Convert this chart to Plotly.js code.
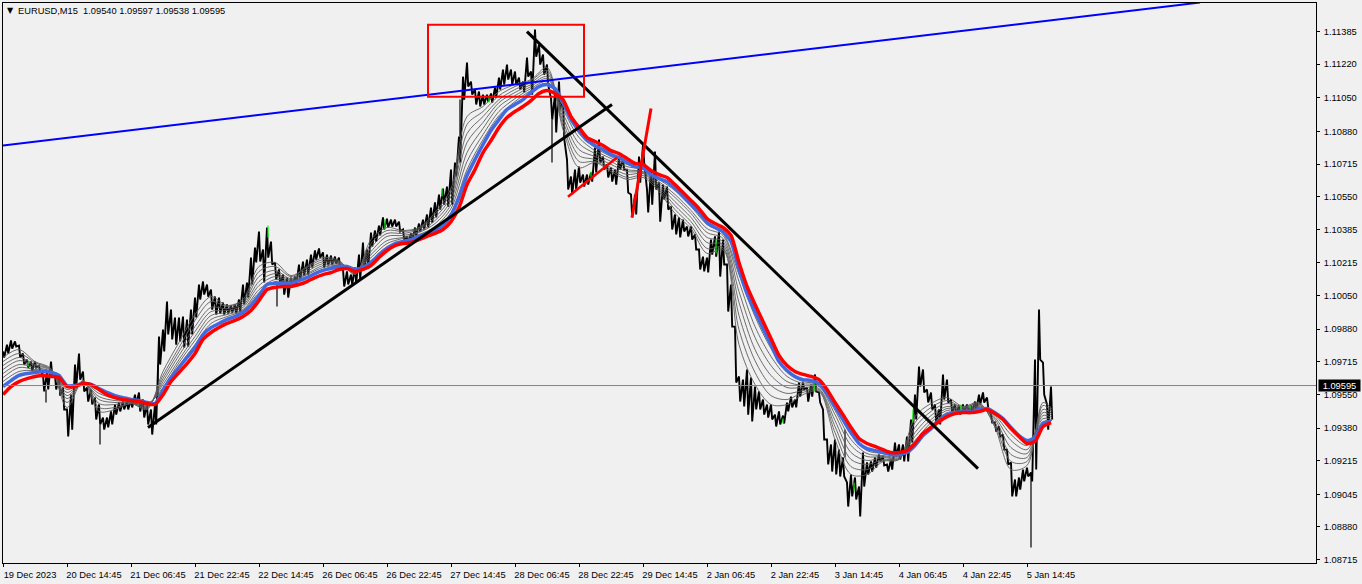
<!DOCTYPE html>
<html><head><meta charset="utf-8">
<script src="https://cdn.plot.ly/plotly-3.0.1.min.js"></script>
<style>html,body{margin:0;padding:0;background:#f0f0f0;overflow:hidden}#c{width:1362px;height:584px}</style>
</head><body><div id="c"></div>
<script>
const dateLabels=["19 Dec 2023","20 Dec 14:45","21 Dec 06:45","21 Dec 22:45","22 Dec 14:45","26 Dec 06:45","26 Dec 22:45","27 Dec 14:45","28 Dec 06:45","28 Dec 22:45","29 Dec 14:45"];
const dateLabelsJan=["2 Jan 06:45","2 Jan 22:45","3 Jan 14:45","4 Jan 06:45","4 Jan 22:45","5 Jan 14:45"];
const priceTicks=[1.11385,1.11220,1.11050,1.10880,1.10715,1.10550,1.10385,1.10215,1.10050,1.09880,1.09715,1.09550,1.09380,1.09215,1.09045,1.08880,1.08715];
const lastPrice=1.09595;
const barHigh=[1.09767,1.09802,1.09823,1.09818,1.09797,1.09757,1.09726,1.09716,1.09716,1.09696,1.09651,1.09661,1.09716,1.09646,1.09646,1.09585,1.09474,1.09549,1.09701,1.09757,1.09666,1.09585,1.09575,1.09534,1.09499,1.09433,1.09433,1.09464,1.09499,1.09509,1.09514,1.09514,1.09524,1.09549,1.09560,1.09524,1.09499,1.09474,1.09499,1.09843,1.09878,1.10020,1.09979,1.09939,1.09939,1.09944,1.09929,1.09979,1.10040,1.10106,1.10121,1.10106,1.10080,1.10045,1.10040,1.10015,1.10005,1.10000,1.10005,1.10030,1.10106,1.10116,1.10242,1.10293,1.10374,1.10283,1.10394,1.10323,1.10217,1.10182,1.10156,1.10141,1.10141,1.10146,1.10207,1.10222,1.10232,1.10257,1.10278,1.10288,1.10268,1.10257,1.10252,1.10247,1.10242,1.10182,1.10172,1.10156,1.10192,1.10257,1.10318,1.10283,1.10369,1.10379,1.10404,1.10445,1.10439,1.10434,1.10434,1.10424,1.10384,1.10349,1.10364,1.10394,1.10414,1.10434,1.10460,1.10495,1.10521,1.10561,1.10591,1.10601,1.10687,1.10723,1.10854,1.11157,1.11228,1.11132,1.11092,1.11082,1.11066,1.11066,1.11072,1.11102,1.11152,1.11193,1.11218,1.11193,1.11183,1.11152,1.11132,1.11253,1.11183,1.11395,1.11319,1.11269,1.11218,1.11046,1.11067,1.11132,1.11046,1.10738,1.10652,1.10687,1.10702,1.10662,1.10662,1.10672,1.10798,1.10839,1.10753,1.10713,1.10697,1.10687,1.10748,1.10738,1.10687,1.10561,1.10561,1.10753,1.10814,1.10586,1.10687,1.10778,1.10621,1.10611,1.10601,1.10500,1.10460,1.10445,1.10434,1.10399,1.10399,1.10359,1.10283,1.10247,1.10242,1.10333,1.10349,1.10374,1.10333,1.10207,1.10106,1.09893,1.09641,1.09625,1.09676,1.09635,1.09590,1.09565,1.09524,1.09499,1.09499,1.09448,1.09464,1.09443,1.09509,1.09539,1.09524,1.09610,1.09610,1.09585,1.09600,1.09651,1.09560,1.09474,1.09322,1.09297,1.09322,1.09271,1.09231,1.09105,1.09145,1.09130,1.09084,1.09256,1.09206,1.09211,1.09231,1.09246,1.09236,1.09196,1.09221,1.09307,1.09297,1.09297,1.09337,1.09423,1.09549,1.09691,1.09676,1.09575,1.09560,1.09499,1.09474,1.09651,1.09625,1.09524,1.09499,1.09494,1.09499,1.09499,1.09494,1.09514,1.09549,1.09560,1.09534,1.09448,1.09408,1.09388,1.09347,1.09271,1.09206,1.09120,1.09130,1.09170,1.09180,1.09155,1.09726,1.09979,1.09711,1.09499,1.09590];
const barLow=[1.09737,1.09757,1.09782,1.09792,1.09737,1.09701,1.09686,1.09671,1.09686,1.09666,1.09565,1.09575,1.09646,1.09575,1.09544,1.09474,1.09337,1.09372,1.09585,1.09625,1.09565,1.09514,1.09499,1.09423,1.09398,1.09372,1.09383,1.09398,1.09448,1.09464,1.09474,1.09474,1.09484,1.09499,1.09464,1.09433,1.09398,1.09347,1.09398,1.09701,1.09767,1.09853,1.09828,1.09802,1.09818,1.09787,1.09792,1.09853,1.09939,1.10030,1.10055,1.10045,1.09979,1.09954,1.09959,1.09954,1.09959,1.09964,1.09959,1.09969,1.10005,1.10040,1.10106,1.10217,1.10222,1.10116,1.10242,1.10207,1.10131,1.10106,1.10055,1.10040,1.10091,1.10101,1.10131,1.10151,1.10156,1.10192,1.10232,1.10242,1.10192,1.10202,1.10207,1.10212,1.10182,1.10096,1.10106,1.10106,1.10111,1.10131,1.10182,1.10192,1.10298,1.10323,1.10354,1.10384,1.10394,1.10399,1.10399,1.10374,1.10333,1.10318,1.10323,1.10354,1.10374,1.10384,1.10394,1.10419,1.10445,1.10485,1.10510,1.10500,1.10510,1.10652,1.10723,1.11041,1.11107,1.11066,1.11016,1.11006,1.11016,1.11031,1.11026,1.11051,1.11092,1.11117,1.11142,1.11117,1.11117,1.11092,1.11077,1.11157,1.11066,1.11258,1.11218,1.11167,1.11117,1.10940,1.10875,1.10991,1.10844,1.10586,1.10561,1.10586,1.10621,1.10601,1.10611,1.10626,1.10672,1.10723,1.10687,1.10647,1.10626,1.10611,1.10687,1.10687,1.10571,1.10445,1.10460,1.10621,1.10723,1.10470,1.10510,1.10586,1.10424,1.10536,1.10485,1.10384,1.10359,1.10344,1.10374,1.10349,1.10333,1.10283,1.10182,1.10172,1.10167,1.10257,1.10247,1.10146,1.10207,1.09969,1.09893,1.09610,1.09514,1.09489,1.09448,1.09413,1.09474,1.09474,1.09448,1.09433,1.09423,1.09388,1.09398,1.09403,1.09464,1.09484,1.09484,1.09539,1.09575,1.09514,1.09539,1.09565,1.09509,1.09322,1.09196,1.09160,1.09145,1.09135,1.09135,1.08983,1.09034,1.09019,1.08933,1.09084,1.09145,1.09160,1.09180,1.09211,1.09191,1.09160,1.09170,1.09236,1.09221,1.09211,1.09211,1.09307,1.09423,1.09590,1.09560,1.09509,1.09474,1.09408,1.09398,1.09524,1.09509,1.09458,1.09448,1.09448,1.09464,1.09464,1.09458,1.09469,1.09499,1.09509,1.09484,1.09408,1.09362,1.09337,1.09271,1.09196,1.09034,1.09034,1.09069,1.09110,1.09135,1.09110,1.09170,1.09726,1.09549,1.09372,1.09423];
const wickBars=[43,97,155,274,457,549,842,1028];
const wickHigh=[1.09575,1.09398,1.09701,1.10106,1.11041,1.10940,1.09372,1.09155];
const wickLow=[1.09509,1.09297,1.09524,1.09995,1.10854,1.10723,1.09231,1.08776];
const slowRed=[1.09549,1.09590,1.09615,1.09630,1.09641,1.09646,1.09641,1.09635,1.09590,1.09590,1.09605,1.09600,1.09575,1.09549,1.09534,1.09524,1.09519,1.09514,1.09504,1.09499,1.09549,1.09615,1.09661,1.09706,1.09757,1.09828,1.09863,1.09888,1.09909,1.09924,1.09944,1.09974,1.10025,1.10080,1.10091,1.10096,1.10096,1.10106,1.10121,1.10141,1.10156,1.10166,1.10182,1.10187,1.10172,1.10182,1.10202,1.10242,1.10278,1.10303,1.10313,1.10318,1.10333,1.10349,1.10364,1.10384,1.10424,1.10495,1.10611,1.10687,1.10773,1.10834,1.10900,1.10950,1.10981,1.11006,1.11036,1.11072,1.11087,1.11072,1.11041,1.10955,1.10900,1.10849,1.10829,1.10809,1.10783,1.10768,1.10743,1.10718,1.10713,1.10682,1.10662,1.10647,1.10611,1.10571,1.10531,1.10490,1.10440,1.10414,1.10394,1.10354,1.10217,1.10096,1.10005,1.09919,1.09833,1.09747,1.09696,1.09666,1.09651,1.09641,1.09625,1.09575,1.09509,1.09448,1.09383,1.09327,1.09302,1.09287,1.09271,1.09256,1.09256,1.09266,1.09302,1.09352,1.09383,1.09413,1.09438,1.09453,1.09458,1.09458,1.09463,1.09474,1.09453,1.09423,1.09377,1.09337,1.09302,1.09312,1.09388,1.09408];
const slowBlue=[1.09590,1.09620,1.09646,1.09656,1.09661,1.09666,1.09661,1.09646,1.09595,1.09595,1.09605,1.09600,1.09580,1.09560,1.09544,1.09534,1.09524,1.09519,1.09509,1.09504,1.09570,1.09635,1.09686,1.09737,1.09787,1.09853,1.09888,1.09909,1.09929,1.09944,1.09964,1.10000,1.10050,1.10106,1.10111,1.10111,1.10111,1.10126,1.10141,1.10161,1.10177,1.10187,1.10197,1.10197,1.10182,1.10192,1.10217,1.10257,1.10288,1.10313,1.10323,1.10333,1.10349,1.10364,1.10379,1.10404,1.10455,1.10546,1.10657,1.10738,1.10814,1.10885,1.10940,1.10991,1.11016,1.11041,1.11077,1.11107,1.11117,1.11097,1.11026,1.10940,1.10885,1.10834,1.10809,1.10788,1.10763,1.10748,1.10723,1.10702,1.10697,1.10662,1.10642,1.10626,1.10591,1.10551,1.10510,1.10470,1.10419,1.10394,1.10374,1.10323,1.10182,1.10060,1.09969,1.09883,1.09802,1.09716,1.09671,1.09641,1.09625,1.09620,1.09605,1.09555,1.09489,1.09423,1.09357,1.09302,1.09276,1.09266,1.09256,1.09246,1.09246,1.09256,1.09292,1.09342,1.09377,1.09418,1.09448,1.09458,1.09463,1.09463,1.09474,1.09479,1.09458,1.09428,1.09383,1.09342,1.09317,1.09332,1.09403,1.09413];
const fan1=[1.09737,1.09777,1.09716,1.09681,1.09484,1.09620,1.09464,1.09474,1.09504,1.09474,1.09666,1.09813,1.09954,1.10045,1.10000,1.10030,1.10197,1.10217,1.10151,1.10197,1.10242,1.10227,1.10156,1.10333,1.10394,1.10379,1.10394,1.10470,1.10591,1.10955,1.11006,1.11082,1.11117,1.11142,1.11203,1.10890,1.10697,1.10723,1.10677,1.10637,1.10647,1.10576,1.10465,1.10389,1.10263,1.10283,1.09802,1.09600,1.09499,1.09499,1.09549,1.09565,1.09322,1.09145,1.09145,1.09211,1.09221,1.09438,1.09504,1.09534,1.09489,1.09509,1.09383,1.09170,1.09191,1.09509,1.09474];
const fan2=[1.09716,1.09757,1.09711,1.09676,1.09509,1.09620,1.09484,1.09484,1.09504,1.09479,1.09646,1.09787,1.09924,1.10020,1.09995,1.10020,1.10172,1.10197,1.10146,1.10192,1.10232,1.10222,1.10161,1.10313,1.10379,1.10374,1.10389,1.10460,1.10571,1.10915,1.10981,1.11061,1.11107,1.11137,1.11188,1.10910,1.10728,1.10728,1.10687,1.10647,1.10657,1.10586,1.10485,1.10404,1.10288,1.10293,1.09878,1.09661,1.09544,1.09524,1.09560,1.09570,1.09357,1.09185,1.09170,1.09216,1.09221,1.09408,1.09484,1.09519,1.09484,1.09504,1.09393,1.09211,1.09211,1.09494,1.09464];
const fan3=[1.09696,1.09737,1.09701,1.09676,1.09529,1.09615,1.09504,1.09499,1.09509,1.09484,1.09630,1.09767,1.09893,1.09990,1.09984,1.10010,1.10146,1.10177,1.10136,1.10182,1.10222,1.10217,1.10166,1.10293,1.10364,1.10364,1.10384,1.10445,1.10551,1.10869,1.10955,1.11041,1.11092,1.11127,1.11173,1.10930,1.10758,1.10738,1.10697,1.10662,1.10667,1.10596,1.10505,1.10424,1.10318,1.10308,1.09949,1.09721,1.09595,1.09555,1.09570,1.09575,1.09388,1.09221,1.09196,1.09221,1.09226,1.09383,1.09464,1.09504,1.09484,1.09499,1.09408,1.09246,1.09231,1.09474,1.09453];
const fan4=[1.09676,1.09721,1.09696,1.09671,1.09544,1.09615,1.09524,1.09509,1.09509,1.09489,1.09615,1.09747,1.09868,1.09969,1.09974,1.10000,1.10121,1.10161,1.10131,1.10172,1.10212,1.10212,1.10172,1.10273,1.10349,1.10354,1.10374,1.10429,1.10530,1.10824,1.10925,1.11026,1.11077,1.11117,1.11157,1.10950,1.10788,1.10753,1.10713,1.10677,1.10672,1.10606,1.10525,1.10445,1.10344,1.10323,1.10015,1.09777,1.09646,1.09585,1.09585,1.09580,1.09418,1.09256,1.09216,1.09231,1.09226,1.09357,1.09443,1.09489,1.09479,1.09494,1.09423,1.09281,1.09251,1.09458,1.09443];
const fan5=[1.09656,1.09701,1.09686,1.09666,1.09560,1.09610,1.09539,1.09519,1.09514,1.09494,1.09600,1.09726,1.09843,1.09949,1.09964,1.09990,1.10101,1.10146,1.10126,1.10161,1.10202,1.10207,1.10172,1.10257,1.10328,1.10344,1.10369,1.10414,1.10510,1.10773,1.10895,1.11006,1.11061,1.11107,1.11147,1.10970,1.10819,1.10768,1.10728,1.10687,1.10677,1.10616,1.10546,1.10465,1.10369,1.10339,1.10070,1.09838,1.09696,1.09615,1.09595,1.09590,1.09448,1.09292,1.09236,1.09236,1.09231,1.09337,1.09423,1.09479,1.09474,1.09489,1.09433,1.09317,1.09271,1.09443,1.09433];
const fan6=[1.09635,1.09686,1.09676,1.09666,1.09575,1.09610,1.09555,1.09529,1.09514,1.09499,1.09585,1.09711,1.09823,1.09929,1.09954,1.09979,1.10080,1.10131,1.10121,1.10156,1.10192,1.10202,1.10177,1.10242,1.10313,1.10339,1.10359,1.10399,1.10490,1.10728,1.10864,1.10981,1.11046,1.11097,1.11132,1.10991,1.10849,1.10783,1.10743,1.10702,1.10687,1.10626,1.10561,1.10480,1.10389,1.10354,1.10121,1.09893,1.09742,1.09641,1.09605,1.09595,1.09469,1.09322,1.09251,1.09241,1.09236,1.09317,1.09408,1.09469,1.09469,1.09484,1.09443,1.09347,1.09292,1.09428,1.09423];
const fan7=[1.09615,1.09666,1.09671,1.09661,1.09585,1.09605,1.09570,1.09534,1.09519,1.09504,1.09575,1.09696,1.09802,1.09909,1.09944,1.09974,1.10065,1.10121,1.10116,1.10146,1.10182,1.10202,1.10182,1.10227,1.10298,1.10328,1.10354,1.10389,1.10470,1.10687,1.10839,1.10960,1.11031,1.11087,1.11122,1.11011,1.10869,1.10798,1.10753,1.10713,1.10692,1.10637,1.10581,1.10500,1.10409,1.10364,1.10156,1.09944,1.09782,1.09661,1.09615,1.09600,1.09484,1.09347,1.09266,1.09251,1.09241,1.09302,1.09393,1.09458,1.09469,1.09479,1.09453,1.09372,1.09307,1.09413,1.09418];
const greenBars=[25,265,382,439,486,588,713,780,811,851,910,958,967];
const greenHigh=[1.09711,1.10404,1.10434,1.10591,1.11051,1.10677,1.10333,1.09428,1.09625,1.09105,1.09474,1.09499,1.09494];
const greenLow=[1.09691,1.10344,1.10389,1.10551,1.11026,1.10651,1.10263,1.09403,1.09565,1.09060,1.09408,1.09464,1.09479];
const blueTrend={x:[0,1197],y:[1.10809,1.11532]};
const blackTrendUp={x:[145,609],y:[1.09383,1.11016]};
const blackTrendDown={x:[524,975],y:[1.11385,1.09175]};
const redLeg1={x:[565,614],y:[1.10550,1.10748]};
const redLeg2={x:[629,648],y:[1.10445,1.10996]};
const redBox={x0:425,x1:581,y0:1.11420,y1:1.11056};

const barStep=4, emaStep=8, fanStep=16, labelStep=64;
const zx=[],zy=[];
barHigh.forEach((h,i)=>{zx.push(i*barStep,i*barStep+1.2);zy.push(h,barLow[i]);});
const wx=[],wy=[];
wickBars.forEach((b,i)=>{wx.push(b,b,null);wy.push(wickHigh[i],wickLow[i],null);});
const emaX=slowRed.map((_,i)=>i*emaStep);
const fanX=fan1.map((_,i)=>i===fan1.length-1?1049:i*fanStep);
const gx=[],gy=[];
greenBars.forEach((b,i)=>{gx.push(b,b,null);gy.push(greenHigh[i],greenLow[i],null);});
const traces=[
 {x:zx,y:zy,mode:'lines',line:{color:'#000',width:1.9}},
 {x:wx,y:wy,mode:'lines',line:{color:'#000',width:1.2}}
];
[fan1,fan2,fan3,fan4,fan5,fan6,fan7].forEach(f=>traces.push({x:fanX,y:f,mode:'lines',line:{color:'#5e5e5e',width:0.9,shape:'spline',smoothing:0.9}}));
traces.push({x:gx,y:gy,mode:'lines',line:{color:'#00ff00',width:1.2}});
traces.push({x:emaX,y:slowBlue,mode:'lines',line:{color:'#4169e1',width:3.5,shape:'spline',smoothing:0.6}});
traces.push({x:emaX,y:slowRed,mode:'lines',line:{color:'#ff0000',width:3.5,shape:'spline',smoothing:0.6}});
traces.push({x:[0,1313],y:[lastPrice,lastPrice],mode:'lines',line:{color:'#778899',width:1}});
[[blackTrendUp,'#000',3],[blackTrendDown,'#000',3],[blueTrend,'#0000ff',2],[redLeg1,'#ff0000',2.6],[redLeg2,'#ff0000',3]].forEach(t=>traces.push({x:t[0].x,y:t[0].y,mode:'lines',line:{color:t[1],width:t[2]}}));
traces.push({x:[0],y:[lastPrice],xaxis:'x2',mode:'lines',line:{color:'rgba(0,0,0,0)',width:0}});
const font={family:'"Liberation Sans",Arial,sans-serif',size:9.3,color:'#000'};
const xBase={range:[0,1313],showgrid:false,zeroline:false,ticks:'outside',ticklen:3,tickcolor:'#000',tickmode:'array',tickfont:font,tickangle:0,ticklabelstandoff:0};
const layout={
 width:1362,height:584,autosize:false,showlegend:false,hovermode:false,
 paper_bgcolor:'#f0f0f0',plot_bgcolor:'#f0f0f0',
 margin:{l:3,r:46,t:3,b:21,pad:0},
 title:{text:'EURUSD,M15  1.09540 1.09597 1.09538 1.09595',font:{family:font.family,size:9.3,color:'#000'},x:18/1362,xanchor:'left',xref:'container',y:1-10.5/584,yanchor:'middle',yref:'container'},
 xaxis:Object.assign({},xBase,{showline:true,mirror:true,linecolor:'#000',linewidth:1,tickvals:dateLabels.map((_,i)=>i*labelStep),ticktext:dateLabels,ticklabelshift:27}),
 xaxis2:Object.assign({},xBase,{overlaying:'x',anchor:'y',side:'bottom',showline:false,tickvals:dateLabelsJan.map((_,i)=>(i+dateLabels.length)*labelStep),ticktext:dateLabelsJan,ticklabelshift:24}),
 yaxis:{range:[1.086975,1.115295],side:'right',showgrid:false,zeroline:false,showline:true,mirror:true,linecolor:'#000',linewidth:1,ticks:'outside',ticklen:3,tickcolor:'#000',tickmode:'array',tickvals:priceTicks,ticktext:priceTicks.map(v=>v.toFixed(5)),tickfont:font,ticklabelstandoff:2},
 shapes:[{type:'rect',xref:'x',yref:'y',x0:redBox.x0,x1:redBox.x1,y0:redBox.y0,y1:redBox.y1,line:{color:'#ff0000',width:2},fillcolor:'rgba(0,0,0,0)'}],
 annotations:[
  {xref:'paper',yref:'y',x:1,y:lastPrice,xanchor:'left',yanchor:'middle',xshift:2,showarrow:false,text:lastPrice.toFixed(5),bgcolor:'#000',borderpad:0,width:41,height:11,align:'center',font:{family:font.family,size:9.3,color:'#fff'}},
  {xref:'paper',yref:'paper',x:0,y:1,xanchor:'left',yanchor:'middle',xshift:2,yshift:-7,showarrow:false,text:'▼',font:{family:'"DejaVu Sans",sans-serif',size:8,color:'#000'}}
 ]
};
Plotly.newPlot('c',traces,layout,{displayModeBar:false,staticPlot:true});
</script></body></html>
